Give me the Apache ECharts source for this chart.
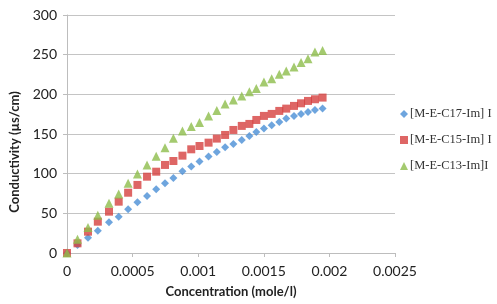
<!DOCTYPE html>
<html>
<head>
<meta charset="utf-8">
<script src="https://cdn.jsdelivr.net/npm/echarts@6/dist/echarts.min.js"></script>
<style>html,body{margin:0;padding:0;background:#fff}#c{width:497px;height:304px}</style>
</head>
<body>
<div id="c"></div>
<script>
var concentration = [0, 0.00008, 0.00016, 0.000235, 0.00032, 0.000394, 0.000466, 0.000537, 0.00061, 0.00068,
  0.000747, 0.000811, 0.00088, 0.000947, 0.00101, 0.001079, 0.001142, 0.001205, 0.001268, 0.001332,
  0.00139, 0.001443, 0.001501, 0.00156, 0.001618, 0.001671, 0.00173, 0.001784, 0.001837, 0.00189, 0.001948];
var c17 = [0, 10, 19.3, 28.2, 38.7, 45.8, 55.1, 63.9, 71.9, 80.3,
  87.9, 94.6, 103, 108.9, 115.2, 121.5, 127.4, 133.3, 137.5, 142.5,
  147.5, 152.6, 156.8, 161, 165.2, 169.4, 172.8, 175.3, 177.8, 180.3, 182];
var c15 = [0, 12.2, 26.9, 39.5, 52.1, 64.7, 76, 85.8, 96.2, 102.5,
  111, 116, 122.7, 130.7, 134.9, 139.1, 144.2, 148.8, 155.1, 160.2,
  162.7, 167.7, 172.8, 175.3, 179.1, 182, 185.4, 188.7, 191.7, 193.8, 195.9];
var c13 = [0, 17.3, 32, 47.5, 62.7, 74.4, 87.9, 99.6, 111, 122,
  132.8, 144.6, 153.8, 159.3, 164.4, 172.8, 179.5, 187.9, 192.9, 198,
  203.4, 207.2, 215.6, 219.8, 225.3, 229.5, 234.6, 240, 245, 253.5, 255.2];
var seriesNames = ['[M-E-C17-Im] I', '[M-E-C15-Im] I', '[M-E-C13-Im]I'];
var xTickLabels = ['0', '0.0005', '0.001', '0.0015', '0.002', '0.0025'];
var yTickLabels = ['0', '50', '100', '150', '200', '250', '300'];

function pairs(ys) { return ys.map(function (y, i) { return [concentration[i], y]; }); }

var chart = echarts.init(document.getElementById('c'), null, {renderer: 'canvas'});
var labelFont = {fontFamily: 'Lato', fontSize: 14, color: '#222'};
chart.setOption({
  animation: false,
  grid: {left: 52, right: 102, top: 15, bottom: 51},
  xAxis: {
    type: 'value', min: 0, max: 0.0025, interval: 0.0005,
    name: 'Concentration (mole/l)', nameLocation: 'middle', nameGap: 32,
    nameTextStyle: {fontFamily: 'Lato', fontWeight: 'bold', fontSize: 13, color: '#222'},
    axisLine: {show: true, lineStyle: {color: '#bdbdbd', width: 1}},
    axisTick: {show: true, length: 4, lineStyle: {color: '#bdbdbd'}},
    axisLabel: Object.assign({margin: 11, formatter: function (v) { return xTickLabels[Math.round(v / 0.0005)]; }}, labelFont),
    splitLine: {show: false}
  },
  yAxis: {
    type: 'value', min: 0, max: 300, interval: 50,
    name: 'Conductivity (µs/cm)', nameLocation: 'middle', nameGap: 46, nameRotate: 90,
    nameTextStyle: {fontFamily: 'Lato', fontWeight: 'bold', fontSize: 13, color: '#222', padding: [0, 36, 0, 0]},
    axisLine: {show: true, lineStyle: {color: '#bdbdbd', width: 1}},
    axisTick: {show: true, length: 4, lineStyle: {color: '#bdbdbd'}},
    axisLabel: Object.assign({margin: 10, formatter: function (v) { return yTickLabels[Math.round(v / 50)]; }}, labelFont),
    splitLine: {show: true, lineStyle: {color: '#c4c4c4', width: 1}}
  },
  legend: {
    orient: 'vertical', left: 395, top: 102,
    itemWidth: 8, itemHeight: 8, itemGap: 12,
    textStyle: {fontFamily: 'Liberation Serif', fontSize: 12.5, color: '#333', lineHeight: 14, padding: [0, 0, 0, -3]},
    data: seriesNames
  },
  series: [
    {name: seriesNames[0], type: 'scatter', symbol: 'diamond', symbolSize: 8,
     itemStyle: {color: '#4a8fd6'}, data: pairs(c17)},
    {name: seriesNames[1], type: 'scatter', symbol: 'rect', symbolSize: 8,
     itemStyle: {color: '#d6403f'}, data: pairs(c15)},
    {name: seriesNames[2], type: 'scatter', symbol: 'triangle', symbolSize: 9,
     itemStyle: {color: '#8dbd4b'}, data: pairs(c13)}
  ]
});
</script>
</body>
</html>
